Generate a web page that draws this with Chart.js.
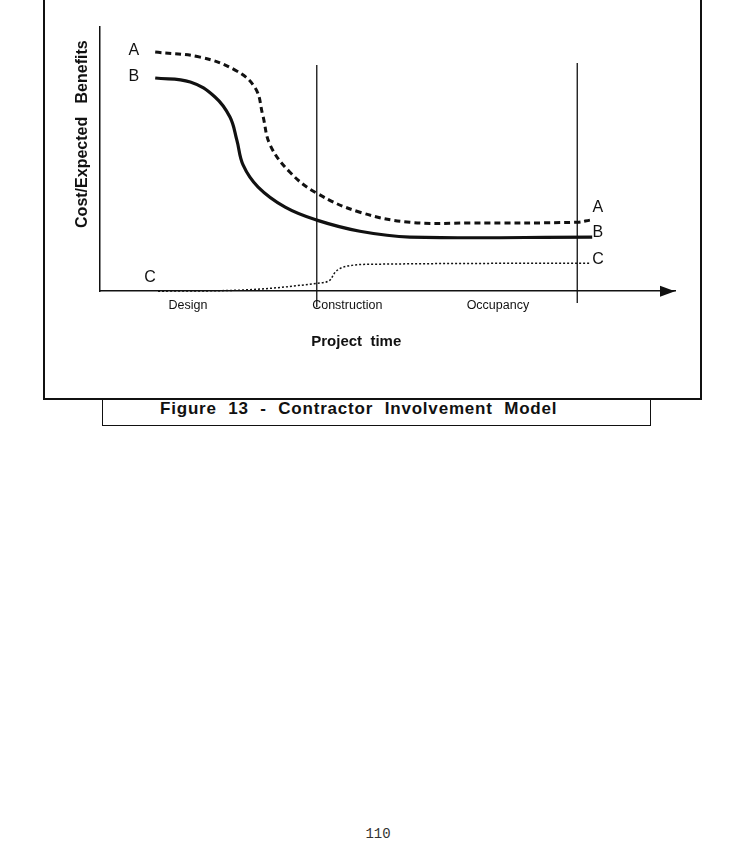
<!DOCTYPE html>
<html>
<head>
<meta charset="utf-8">
<title>Figure 13 - Contractor Involvement Model</title>
<script src="https://cdn.jsdelivr.net/npm/chart.js@4/dist/chart.umd.min.js"></script>
<style>
  html, body { margin: 0; padding: 0; background: #fff; }
  body { width: 747px; height: 842px; position: relative; overflow: hidden; font-family: "Liberation Sans", Arial, sans-serif; }
  #marco { position: absolute; left: 43px; top: -10px; width: 659px; height: 410px; box-sizing: border-box; border: 2px solid #111; }
  #pie { position: absolute; left: 102px; top: 398px; width: 549px; height: 28px; box-sizing: border-box;
         border: 1.5px solid #111; border-top: none; }
  #pie span { position: absolute; left: 57px; top: 0; height: 22px; line-height: 22px; font-weight: bold; font-size: 17px;
              letter-spacing: 0.8px; word-spacing: 6px; color: #111; white-space: nowrap; }
  #pagina { position: absolute; left: 0; width: 756px; top: 826px; text-align: center; font-family: "Liberation Mono", monospace;
            font-size: 14px; color: #333; }
  #grafico { position: absolute; left: 0; top: 0; }
</style>
</head>
<body>
<div id="marco"></div>
<div id="pie"><span>Figure 13 - Contractor Involvement Model</span></div>
<div id="pagina">110</div>
<canvas id="grafico" width="747" height="842"></canvas>
<script>
/* Modelo de participacion del contratista: curvas A, B, C sobre el tiempo del proyecto */
(function () {
  'use strict';

  var NEGRO = '#111';

  // curva A (discontinua gruesa)
  var curvaAx = [9.6, 17.4, 23.5, 27.0, 28.3, 29.6, 33.0, 37.7, 45.2, 53.9, 64.3, 83.0, 85.2];
  var curvaAy = [90.5, 88.6, 83.7, 76.9, 66.7, 55.3, 45.1, 37.1, 29.9, 26.1, 25.8, 26.1, 26.9];
  // curva B (continua)
  var curvaBx = [9.6, 15.7, 20.0, 22.6, 23.8, 24.9, 27.5, 32.2, 37.7, 45.2, 53.9, 85.6];
  var curvaBy = [80.7, 79.2, 73.5, 65.9, 57.2, 47.7, 39.4, 31.8, 26.9, 22.7, 20.5, 20.5];
  // curva C (punteada fina)
  var curvaCx = [10.1, 24.3, 37.7, 40.0, 40.9, 43.0, 47.5, 85.2];
  var curvaCy = [0, 0.4, 3.0, 4.2, 7.2, 9.5, 10.2, 10.6];

  // fases del eje X
  var fases = ['Design', 'Construction', 'Occupancy'];
  var fasesX = [15.3, 43.0, 69.2];

  // lineas verticales que separan fases
  var limitesX = [37.7, 83.0];
  var limitesArriba = [85.6, 86.4];
  var limitesAbajo = [-6.1, -4.5];

  // rotulos de las curvas
  var rotulos = ['A', 'B', 'C'];
  var rotIzqX = [5.9, 5.9, 8.7];
  var rotIzqY = [90.9, 81.1, 5.3];
  var rotDerX = [86.6, 86.6, 86.6];
  var rotDerY = [31.8, 22.0, 12.1];

  function puntos(xs, ys) {
    return xs.map(function (x, i) { return { x: x, y: ys[i] }; });
  }

  Chart.defaults.font.family = '"Liberation Sans", Arial, sans-serif';
  Chart.defaults.color = NEGRO;

  var datasets = [
    { label: 'A', data: puntos(curvaAx, curvaAy), borderColor: NEGRO, borderWidth: 3, borderDash: [6, 4],
      tension: 0.4, pointRadius: 0, clip: false },
    { label: 'B', data: puntos(curvaBx, curvaBy), borderColor: NEGRO, borderWidth: 3.2,
      tension: 0.4, pointRadius: 0, clip: false },
    { label: 'C', data: puntos(curvaCx, curvaCy), borderColor: NEGRO, borderWidth: 1.5, borderDash: [2, 2],
      cubicInterpolationMode: 'monotone', pointRadius: 0, clip: false }
  ];
  limitesX.forEach(function (x, i) {
    datasets.push({ label: 'limite' + i, data: [{ x: x, y: limitesArriba[i] }, { x: x, y: limitesAbajo[i] }],
      borderColor: NEGRO, borderWidth: 1.3, pointRadius: 0, clip: false });
  });

  // flecha del eje X y rotulos A/B/C
  var extras = {
    id: 'extras',
    afterDraw: function (chart) {
      var ctx = chart.ctx, sx = chart.scales.x, sy = chart.scales.y;
      var y0 = sy.getPixelForValue(0), xr = chart.chartArea.right;
      ctx.save();
      ctx.fillStyle = NEGRO;
      ctx.beginPath();
      ctx.moveTo(xr, y0);
      ctx.lineTo(xr - 15, y0 - 5.5);
      ctx.lineTo(xr - 15, y0 + 5.5);
      ctx.closePath();
      ctx.fill();
      ctx.font = '16px "Liberation Sans", Arial, sans-serif';
      ctx.textAlign = 'center';
      ctx.textBaseline = 'middle';
      rotulos.forEach(function (r, i) {
        ctx.fillText(r, sx.getPixelForValue(rotIzqX[i]), sy.getPixelForValue(rotIzqY[i]));
        ctx.fillText(r, sx.getPixelForValue(rotDerX[i]), sy.getPixelForValue(rotDerY[i]));
      });
      ctx.restore();
    }
  };

  new Chart(document.getElementById('grafico'), {
    type: 'line',
    data: { datasets: datasets },
    plugins: [extras],
    options: {
      responsive: false,
      animation: false,
      devicePixelRatio: 1,
      layout: { padding: { left: 73.4, right: 72, top: 27, bottom: 491.6 } },
      plugins: { legend: { display: false }, tooltip: { enabled: false } },
      scales: {
        x: {
          type: 'linear', min: 0, max: 100,
          grid: { display: false, drawTicks: false },
          border: { display: true, color: NEGRO, width: 1.5 },
          afterBuildTicks: function (s) { s.ticks = fasesX.map(function (v) { return { value: v }; }); },
          ticks: { autoSkip: false, maxRotation: 0, padding: 6.6, font: { size: 12.5 },
            callback: function (v, i) { return fases[i]; } },
          title: { display: true, text: 'Project  time' + ' '.repeat(15), padding: { top: 13, bottom: 0 },
            font: { size: 15, weight: 'bold' } }
        },
        y: {
          type: 'linear', min: 0, max: 100,
          grid: { display: false, drawTicks: false },
          border: { display: true, color: NEGRO, width: 1.5 },
          ticks: { display: false },
          title: { display: true, align: 'end', text: 'Cost/Expected   Benefits' + ' '.repeat(3),
            padding: { top: 0, bottom: 7.4 }, font: { size: 16, weight: 'bold' } }
        }
      }
    }
  });
})();
</script>
</body>
</html>
